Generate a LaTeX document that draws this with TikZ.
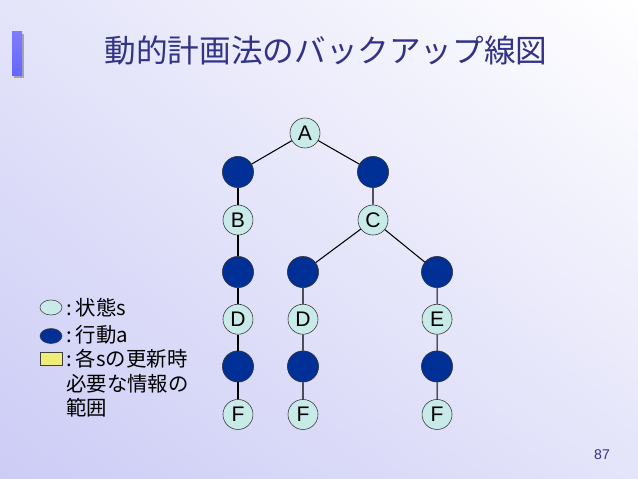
\documentclass[tikz,border=0pt]{standalone}
\usepackage{fontspec}
\setmainfont{Liberation Sans}
\newfontfamily\jpfont{Noto Sans CJK JP}
\usetikzlibrary{positioning,shapes.geometric,shadings}
\definecolor{statecol}{RGB}{200,234,232}
\definecolor{actcol}{RGB}{0,48,150}
\definecolor{titlecol}{RGB}{50,50,135}
\definecolor{barcol}{RGB}{102,102,255}
\definecolor{infocol}{RGB}{240,236,120}
\definecolor{bgleft}{RGB}{204,204,246}
\definecolor{bgmid}{RGB}{228,228,250}

\begin{document}
\begin{tikzpicture}[x=0.025cm,y=-0.025cm,on grid,node distance=1.2cm]
    \tikzstyle{statenode}=[circle,draw=black!80,fill=statecol,minimum size=0.75cm,inner sep=0pt,font=\fontsize{15}{15}\selectfont]
    \tikzstyle{actnode}=[circle,draw=black!80,fill=actcol,minimum size=0.78cm,inner sep=0pt]
    \tikzstyle{legtext}=[anchor=west,inner sep=0pt,align=left,font=\jpfont\fontsize{14.5}{17.5}\selectfont]
    \tikzstyle{edge}=[draw=black,line width=0.75pt]
    \useasboundingbox (0,0) rectangle (638,479);
    \shade[upper left=bgmid,upper right=white,lower left=bgleft,lower right=bgmid] (0,0) rectangle (638,479);
    % title bar
    \fill[black!35] (14,34) rectangle (24,78);
    \shade[top color=barcol!85,bottom color=barcol] (12,32) rectangle (22,76);
    \node[titlecol,font=\jpfont\fontsize{22.5}{22.5}\selectfont] (title) at (326,50) {動的計画法のバックアップ線図};
    % tree
    \node[statenode] (A) at (305,133) {A};
    \node[actnode] (a1) [below left=0.975cm and 1.675cm of A] {};
    \node[actnode] (a2) [below right=0.975cm and 1.7cm of A] {};
    \node[statenode] (B) [below=of a1] {B};
    \node[statenode] (C) [below=of a2] {C};
    \node[actnode] (b1) [below=1.3cm of B] {};
    \node[actnode] (c1) [below left=1.3cm and 1.75cm of C] {};
    \node[actnode] (c2) [below right=1.3cm and 1.6cm of C] {};
    \node[statenode] (D1) [below=1.18cm of b1] {D};
    \node[statenode] (D2) [below=1.18cm of c1] {D};
    \node[statenode] (E) [below=1.18cm of c2] {E};
    \node[actnode] (d1) [below=1.18cm of D1] {};
    \node[actnode] (d2) [below=1.18cm of D2] {};
    \node[actnode] (e1) [below=1.18cm of E] {};
    \node[statenode] (F1) [below=1.2cm of d1] {F};
    \node[statenode] (F2) [below=1.2cm of d2] {F};
    \node[statenode] (F3) [below=1.2cm of e1] {F};
    \draw[edge] (A) -- (a1) (A) -- (a2);
    \draw[edge] (a1) -- (B) -- (b1) -- (D1) -- (d1) -- (F1);
    \draw[edge] (a2) -- (C) -- (c1) -- (D2) -- (d2) -- (F2);
    \draw[edge] (C) -- (c2) -- (E) -- (e1) -- (F3);
    % legend
    \node[ellipse,draw=black!75,fill=statecol,minimum width=0.55cm,minimum height=0.375cm,inner sep=0pt] (ls) at (51,307.5) {};
    \node[ellipse,draw=black!75,fill=actcol,minimum width=0.55cm,minimum height=0.375cm,inner sep=0pt] (la) at (51,336) {};
    \node[rectangle,draw=black!75,fill=infocol,minimum width=0.55cm,minimum height=0.325cm,inner sep=0pt] (li) at (51,358.5) {};
    \node[legtext] (lstext) at (66,307.5) {:\hspace{0.1cm}状態s};
    \node[legtext] (latext) at (66,335) {:\hspace{0.1cm}行動a};
    \node[legtext,anchor=north west] (litext) at (66,349) {:\hspace{0.1cm}各sの更新時\\必要な情報の\\範囲};
    % page number
    \node[titlecol,font=\fontsize{10}{10}\selectfont] (page) at (602,455) {87};
\end{tikzpicture}
\end{document}
